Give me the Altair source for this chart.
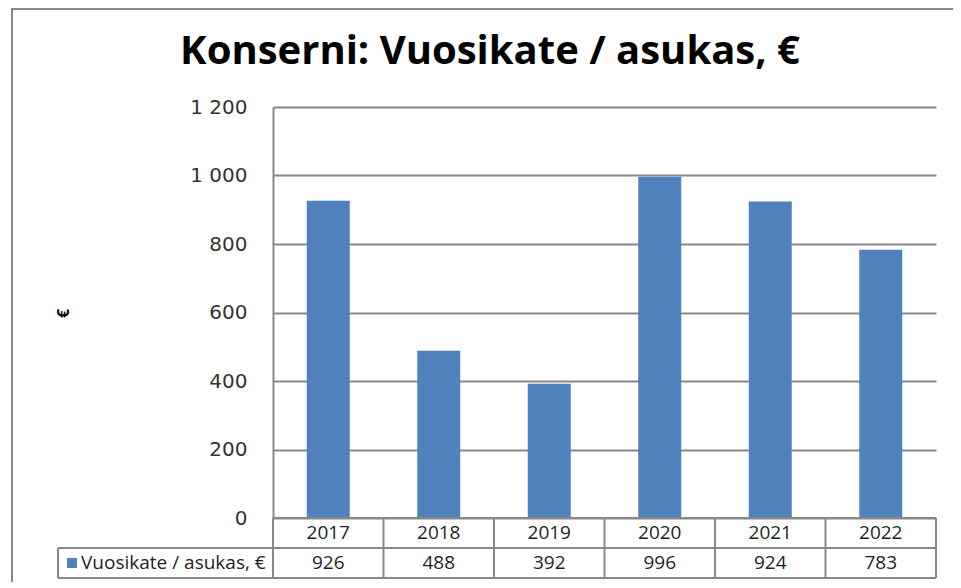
import altair as alt
import pandas as pd

# ---- data ----
years = ["2017", "2018", "2019", "2020", "2021", "2022"]
values = [926, 488, 392, 996, 924, 783]
series_name = "Vuosikate / asukas, €"
title_text = "Konserni: Vuosikate / asukas, €"
y_title = "€"
y_ticks = [0, 200, 400, 600, 800, 1000, 1200]

# ---- layout / style ----
W, H = 663, 411
ROW = 30
BLUE = "#4F81BD"
GRID = "#888888"
TEXT = "#1f1f1f"

df = pd.DataFrame({"year": years, "value": values})
one = pd.DataFrame({"k": [0]})

xscale = alt.Scale(paddingInner=0, paddingOuter=0)
yscale = alt.Scale(domain=[0, 1200], nice=False, zero=True)

base = alt.Chart(df)

frame = alt.Chart(one).mark_rect(fillOpacity=0, stroke=GRID, strokeWidth=2).encode(
    x=alt.value(-261), x2=alt.value(W + 100), y=alt.value(-98), y2=alt.value(H + 100)
)

bars = base.mark_bar(size=43, color=BLUE).encode(
    x=alt.X("year:N", scale=xscale, axis=None, sort=years),
    y=alt.Y(
        "value:Q",
        scale=yscale,
        axis=alt.Axis(
            values=y_ticks,
            grid=True,
            gridColor=GRID,
            gridWidth=2,
            domain=True,
            domainColor=GRID,
            domainWidth=2,
            ticks=False,
            labelPadding=26,
            labelFlush=False,
            labelFont="DejaVu Sans",
            labelFontSize=20,
            labelColor="#333333",
            labelExpr="replace(format(datum.value, ','), ',', ' ')",
            title=y_title,
            titleFont="Open Sans",
            titleFontSize=16,
            titleFontWeight="bold",
            titleColor="#000000",
            titleX=-210,
            titleY=206,
            titleAngle=270,
            titleAlign="center",
            titleBaseline="middle",
        ),
    ),
)

xs = alt.X("year:N", scale=xscale, axis=None, sort=years)

year_text = base.mark_text(font="Open Sans", fontSize=19, color=TEXT, baseline="middle").encode(
    x=xs, y=alt.value(H + ROW / 2), text="year:N"
)
value_text = base.mark_text(font="Open Sans", fontSize=19, color=TEXT, baseline="middle").encode(
    x=xs, y=alt.value(H + ROW * 1.5), text="value:Q"
)

vrules = base.mark_rule(color=GRID, strokeWidth=2).encode(
    x=alt.X("year:N", scale=xscale, axis=None, sort=years, bandPosition=0),
    y=alt.value(H), y2=alt.value(H + 2 * ROW)
)
right_rule = alt.Chart(one).mark_rule(color=GRID, strokeWidth=2).encode(
    x=alt.value(W), y=alt.value(H), y2=alt.value(H + 2 * ROW)
)
left_rule = alt.Chart(one).mark_rule(color=GRID, strokeWidth=2).encode(
    x=alt.value(-215), y=alt.value(H + ROW), y2=alt.value(H + 2 * ROW)
)
top_rule = alt.Chart(one).mark_rule(color=GRID, strokeWidth=2).encode(
    x=alt.value(0), x2=alt.value(W), y=alt.value(H)
)
mid_rule = alt.Chart(one).mark_rule(color=GRID, strokeWidth=2).encode(
    x=alt.value(-215), x2=alt.value(W), y=alt.value(H + ROW)
)
bot_rule = alt.Chart(one).mark_rule(color=GRID, strokeWidth=2).encode(
    x=alt.value(-215), x2=alt.value(W), y=alt.value(H + 2 * ROW)
)

legend_sq = alt.Chart(one).mark_square(size=100, color=BLUE, filled=True, opacity=1).encode(
    x=alt.value(-201), y=alt.value(H + ROW * 1.5)
)
legend_txt = alt.Chart(one).mark_text(
    text=series_name, font="Open Sans", fontSize=19, color=TEXT, align="left", baseline="middle"
).encode(x=alt.value(-192), y=alt.value(H + ROW * 1.5))

title = alt.Chart(one).mark_text(
    text=title_text, font="Open Sans", fontSize=40, fontWeight="bold", color="#000000",
    align="center", baseline="alphabetic"
).encode(x=alt.value(217), y=alt.value(-43))

chart = alt.layer(
    frame, bars, vrules, right_rule, left_rule, top_rule, mid_rule, bot_rule,
    year_text, value_text, legend_sq, legend_txt, title
).properties(
    width=W,
    height=H,
    autosize=alt.AutoSizeParams(type="none"),
    padding={"left": 265, "top": 99, "right": 17, "bottom": 64},
).configure_view(stroke=None)

chart.save("out.html", embed_options={"renderer": "svg", "actions": False})
